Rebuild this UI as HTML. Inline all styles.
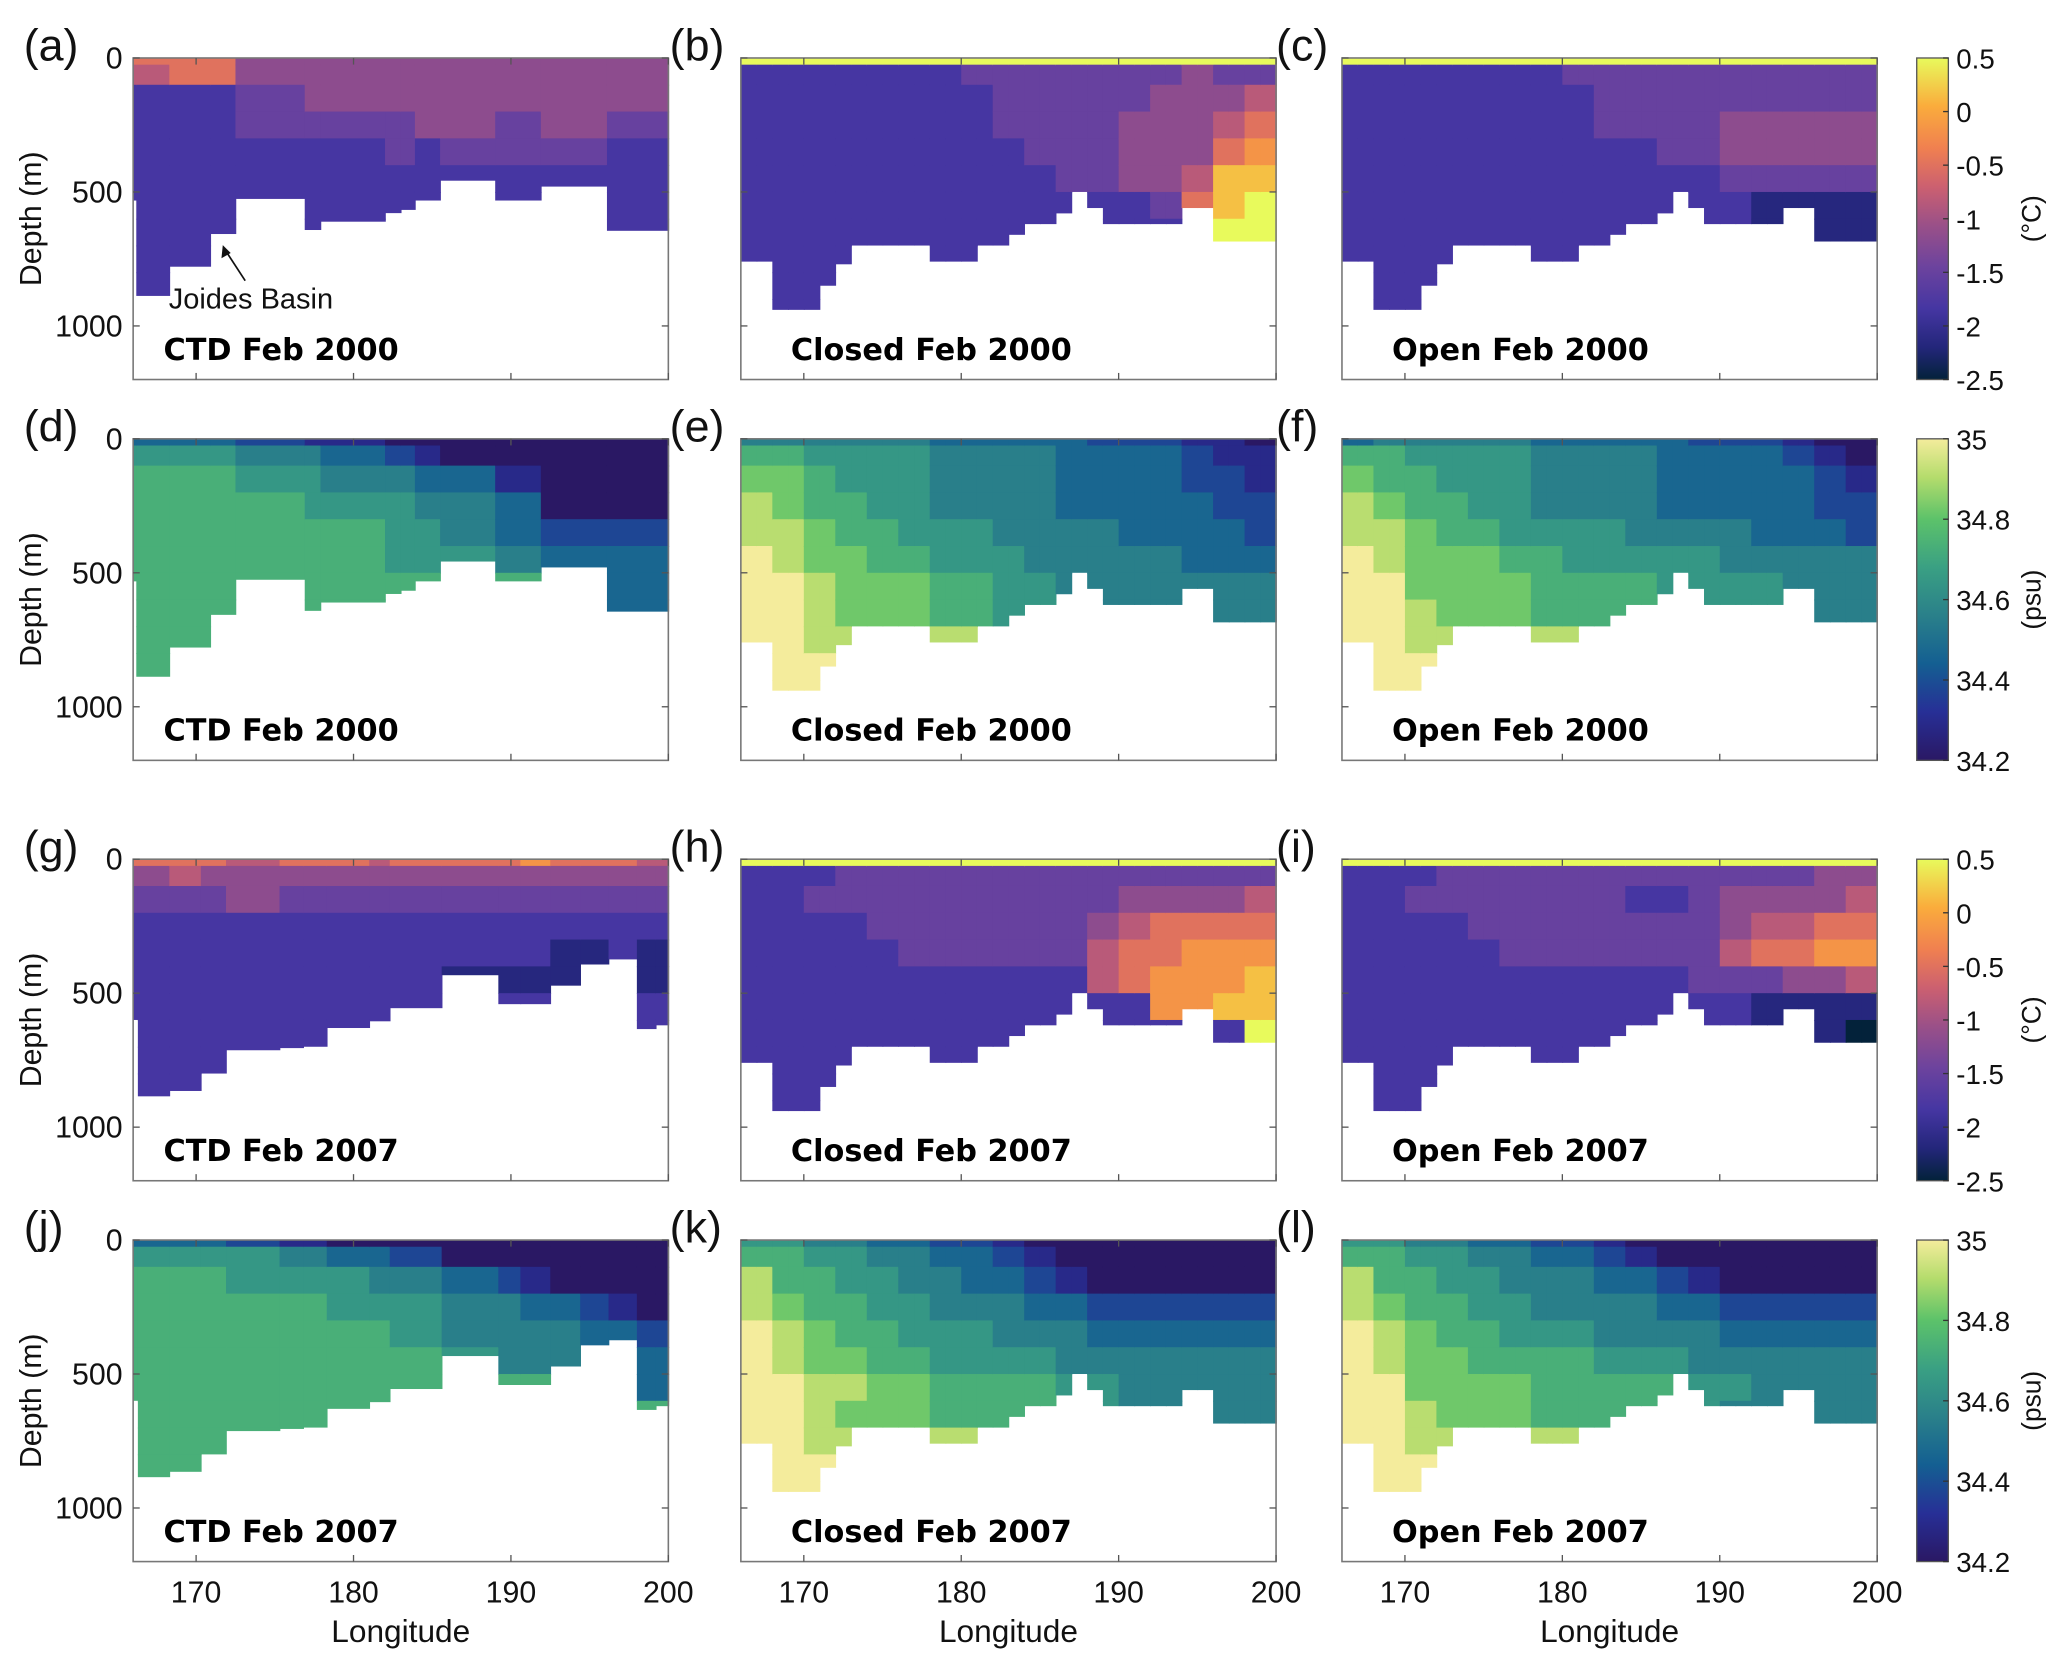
<!DOCTYPE html>
<html><head><meta charset="utf-8">
<style>html,body{margin:0;padding:0;background:#fff}svg{display:block}
text{font-family:"Liberation Sans",sans-serif}</style></head>
<body>
<svg id="fig" xmlns="http://www.w3.org/2000/svg" width="2067" height="1667" viewBox="0 0 1568 1265" preserveAspectRatio="none"></svg>
<script>
// ---- data ----
const lonMin = 166, lonMax = 200, depthMax = 1200;
const rowEdges = [0,25,100,200,300,400,500,600,700,800,900,1000];
const xTicks = [170,180,190,200];
const yTicks = [0,500,1000];
const tempTicks = [0.5,0,-0.5,-1,-1.5,-2,-2.5];
const salTicks = [35,34.8,34.6,34.4,34.2];
// model bathymetry (m), 1-degree columns from 166
const modelBath = [760,760,940,940,940,850,770,700,700,700,700,700,760,760,760,700,700,660,620,620,580,500,560,620,620,620,620,620,560,560,685,685,685,685];
// CTD casts [lon0, lon1, bottom]
const ctd2000 = [[166,166.2,532],[166.2,168.3,888],[168.3,170.9,779],[170.9,172.5,657],[172.5,176.9,526],[176.9,177.9,642],[177.9,182,611],[182,183,579],[183,183.9,567],[183.9,185.5,532],[185.5,189,458],[189,191.9,532],[191.9,196.1,480],[196.1,200,645]];
const ctd2007 = [[166,166.3,600],[166.3,168.3,885],[168.3,170.3,865],[170.3,171.9,800],[171.9,175.3,713],[175.3,176.8,705],[176.8,178.3,700],[178.3,181,630],[181,182.3,605],[182.3,185.6,556],[185.6,189.2,433],[189.2,190.6,541],[190.6,192.5,541],[192.5,194.4,472],[194.4,196.2,393],[196.2,198,374],[198,199.2,634],[199.2,200,620]];
// value grids: rows = rowEdges bands, 17 cols of 2 degrees, digit 0-9 across colour scale
const gridA = ["66644444444444444","56634444444444444","22233444444344444","22223334344333433","22222223323233322","22222222222222222","22222222222222222","22222222222222222","22222222222222222","22222222222222222","22222222222222222"];
const gridB = ["99999999999999999","22222223333333433","22222222333334445","22222222333344456","22222222233344467","22222222223344588","22222222222223689","22222222222222299","22222222222222222","22222222222222222","22222222222222222"];
const gridC = ["99999999999999999","22222223333333333","22222222333333333","22222222333344444","22222222223344444","22222222222233333","22222222222221111","22222222222221111","22222222222222222","22222222222222222","22222222222222222"];
const gridD = ["33332110000000000","55554432210000000","66655544433210000","66666555544331000","66666665554433222","66666666555444333","66666666666666333","66666666666666333","66666666666666666","66666666666666666","66666666666666666"];
const gridE = ["44444433333222110","66555544443333211","77655544443333221","87665544443333322","88766555444433332","98776655544444333","99877766554444444","99877766555444444","99888888888888888","99988888888888888","99988888888888888"];
const gridF = ["34444433333222100","66555544443333210","76655544443333321","87665544443333322","88766555544443332","98777665555544444","99777766665555444","99877766665555444","99888888888888888","99988888888888888","99988888888888888"];
const gridG = ["66656665656676665","45444444444444444","33343333333333333","22222222222222222","22222222222221121","22222222211111221","22222222222222222","22222222222222222","22222222222222222","22222222222222222","22222222222222222"];
const gridH = ["99999999999999999","22233333333333333","22333333333344445","22223333333456666","22222333333566777","22222222222567778","22222222222227788","22222222222222229","22222222222222222","22222222222222222","22222222222222222"];
const gridI = ["99999999999999999","22233333333333344","22333333322344445","22223333333345566","22222333333356677","22222222222333445","22222222222221111","22222222222221110","22222222222222222","22222222222222222","22222222222222222"];
const gridJ = ["33322100000000000","55554433200000000","66655554443210000","66666655554433210","66666666554444332","66666666655444333","66666666666666333","66666666666666666","66666666666666666","66666666666666666","66666666666666666"];
const gridK = ["55443322100000000","66554433210000000","86655443321000000","87665544433222222","98766555444333333","98776655554444444","99887766665544444","99877766665544444","99888888888888888","99988888888888888","99988888888888888"];
const gridL = ["55443322100000000","66554433210000000","86655444332100000","87665544443322222","98766555444433333","98776666555444444","99777766666554444","99877766665544444","99888888888888888","99988888888888888","99988888888888888"];

// ---- colour maps ----
const thermal = [[0,"#03223a"],[0.1,"#23267a"],[0.22,"#4536a2"],[0.35,"#6c439e"],[0.48,"#9a5088"],[0.6,"#cc6070"],[0.72,"#f08050"],[0.85,"#faac3c"],[1,"#e8fa5c"]];
const haline = [[0,"#2a1864"],[0.15,"#272f96"],[0.3,"#145f92"],[0.45,"#2a808a"],[0.6,"#3aa083"],[0.75,"#5cc26a"],[0.88,"#b4dc6c"],[1,"#f4ec9c"]];
function hex(c){return [1,3,5].map(i=>parseInt(c.substr(i,2),16));}
function cmap(stops,t){t=Math.max(0,Math.min(1,t));for(let i=1;i<stops.length;i++){if(t<=stops[i][0]){const a=stops[i-1],b=stops[i];const f=(t-a[0])/(b[0]-a[0]);const ca=hex(a[1]),cb=hex(b[1]);return "rgb("+ca.map((v,k)=>Math.round(v+(cb[k]-v)*f)).join(",")+")";}}return stops[stops.length-1][1];}

// ---- layout ----
const svg = document.getElementById('fig');
const NS = "http://www.w3.org/2000/svg";
function el(tag, attrs, parent){const e=document.createElementNS(NS,tag);for(const k in attrs)e.setAttribute(k,attrs[k]);(parent||svg).appendChild(e);return e;}
const colX = [101,562,1018], axW = 406;
const rowY = [44,333,652,941], axH = 244;
function xScale(lon,x0){return x0+(lon-lonMin)/(lonMax-lonMin)*axW;}
function yScale(d,y0){return y0+d/depthMax*axH;}

const modelSegs = modelBath.map((b,i)=>[lonMin+i,lonMin+i+1,b]);
const panels = [
 {lab:"(a)",title:"CTD  Feb 2000",grid:gridA,segs:ctd2000,cm:thermal,r:0,c:0},
 {lab:"(b)",title:"Closed Feb 2000",grid:gridB,segs:modelSegs,cm:thermal,r:0,c:1},
 {lab:"(c)",title:"Open Feb 2000",grid:gridC,segs:modelSegs,cm:thermal,r:0,c:2},
 {lab:"(d)",title:"CTD  Feb 2000",grid:gridD,segs:ctd2000,cm:haline,r:1,c:0},
 {lab:"(e)",title:"Closed Feb 2000",grid:gridE,segs:modelSegs,cm:haline,r:1,c:1},
 {lab:"(f)",title:"Open  Feb 2000",grid:gridF,segs:modelSegs,cm:haline,r:1,c:2},
 {lab:"(g)",title:"CTD Feb 2007",grid:gridG,segs:ctd2007,cm:thermal,r:2,c:0},
 {lab:"(h)",title:"Closed Feb 2007",grid:gridH,segs:modelSegs,cm:thermal,r:2,c:1},
 {lab:"(i)",title:"Open Feb 2007",grid:gridI,segs:modelSegs,cm:thermal,r:2,c:2},
 {lab:"(j)",title:"CTD Feb 2007",grid:gridJ,segs:ctd2007,cm:haline,r:3,c:0},
 {lab:"(k)",title:"Closed Feb 2007",grid:gridK,segs:modelSegs,cm:haline,r:3,c:1},
 {lab:"(l)",title:"Open Feb 2007",grid:gridL,segs:modelSegs,cm:haline,r:3,c:2}
];

panels.forEach((p,pi)=>{
  const x0=colX[p.c], y0=rowY[p.r];
  const g=el('g',{});
  
  
  p.segs.forEach(s=>{
    const mid=(s[0]+s[1])/2;
    const col=Math.min(16,Math.floor((mid-lonMin)/2));
    for(let r=0;r<rowEdges.length-1;r++){
      const top=rowEdges[r], bot=Math.min(rowEdges[r+1],s[2]);
      if(top>=s[2])break;
      const v=parseInt(p.grid[r][col])/9;
      const xa=xScale(s[0],x0), xb=xScale(s[1],x0), ya=yScale(top,y0), yb=yScale(bot,y0);
      const rc=el('rect',{x:xa,y:ya,width:xb-xa+0.6,height:yb-ya+(bot<s[2]?0.6:0),fill:cmap(p.cm,v)},g);
      
      
    }
  });
  const fr=el('rect',{x:x0,y:y0,width:axW,height:axH,fill:'none',stroke:'#777','stroke-width':1.2},g);
  
  
  xTicks.forEach(t=>{const x=xScale(t,x0);el('line',{x1:x,x2:x,y1:y0+axH,y2:y0+axH-5,stroke:'#555'},g);el('line',{x1:x,x2:x,y1:y0,y2:y0+5,stroke:'#555'},g);
    if(p.r===3){const tl=el('text',{x:x,y:y0+axH+31,'font-size':23,'text-anchor':'middle',fill:'#111'},g);tl.textContent=t;}});
  yTicks.forEach(t=>{const y=yScale(t,y0);el('line',{x1:x0,x2:x0+5,y1:y,y2:y,stroke:'#555'},g);el('line',{x1:x0+axW,x2:x0+axW-5,y1:y,y2:y,stroke:'#555'},g);
    if(p.c===0){const tl=el('text',{x:x0-8,y:y+8,'font-size':23,'text-anchor':'end',fill:'#111'},g);tl.textContent=t;}});
  const lb=el('text',{x:0,y:y0+2,'font-size':34,fill:'#111'},g);
  lb.setAttribute('x', p.c===0?18:(p.c===1?508:968));
  lb.textContent=p.lab;
  
  
  const tt=el('text',{x:x0+(p.c===0?23:38),y:y0+229,'font-size':23,'font-weight':'bold',fill:'#000',style:'font-family:"DejaVu Sans",sans-serif'},g);
  tt.textContent=p.title;
  
  
  if(p.c===0){const yl=el('text',{x:0,y:0,'font-size':23,'text-anchor':'middle',fill:'#111',transform:'translate(31,'+(y0+122)+') rotate(-90)'},g);yl.textContent='Depth (m)';}
  if(p.r===3){const xl=el('text',{x:x0+axW/2,y:y0+axH+61,'font-size':24,'text-anchor':'middle',fill:'#111'},g);xl.textContent='Longitude';}
});

// Joides annotation
const jt=el('text',{x:128,y:234,'font-size':22,fill:'#111'});
jt.textContent='Joides Basin';


el('line',{x1:186,y1:213,x2:171,y2:190,stroke:'#111','stroke-width':1.3});
el('path',{d:'M169,186 L168,196 L175,192 Z',fill:'#111'});

// colorbars
const defs=el('defs',{});
function mkGrad(id,stops){const lg=el('linearGradient',{id:id,x1:0,y1:1,x2:0,y2:0},defs);stops.forEach(s=>el('stop',{offset:s[0],'stop-color':s[1]},lg));}
mkGrad('gT',thermal);mkGrad('gS',haline);
[0,1,2,3].forEach(r=>{
  const y0=rowY[r], isT=(r%2===0), x0=1454, w=24;
  const cb=el('rect',{x:x0,y:y0,width:w,height:axH,fill:isT?'url(#gT)':'url(#gS)',stroke:'#555','stroke-width':1});
  
  
  const ticks=isT?tempTicks:salTicks;
  const vmin=isT?-2.5:34.2, vmax=isT?0.5:35;
  ticks.forEach(t=>{const y=y0+(vmax-t)/(vmax-vmin)*axH;el('line',{x1:x0+w-4,x2:x0+w,y1:y,y2:y,stroke:'#333'});
    const tl=el('text',{x:x0+30,y:y+8,'font-size':21,fill:'#111'});tl.textContent=t;});
  const ul=el('text',{x:0,y:0,'font-size':20,'text-anchor':'middle',fill:'#111',transform:'translate(1548,'+(y0+122)+') rotate(-90)'});
  ul.textContent=isT?'(°C)':'(psu)';
  
  
});
</script>
</body></html>
